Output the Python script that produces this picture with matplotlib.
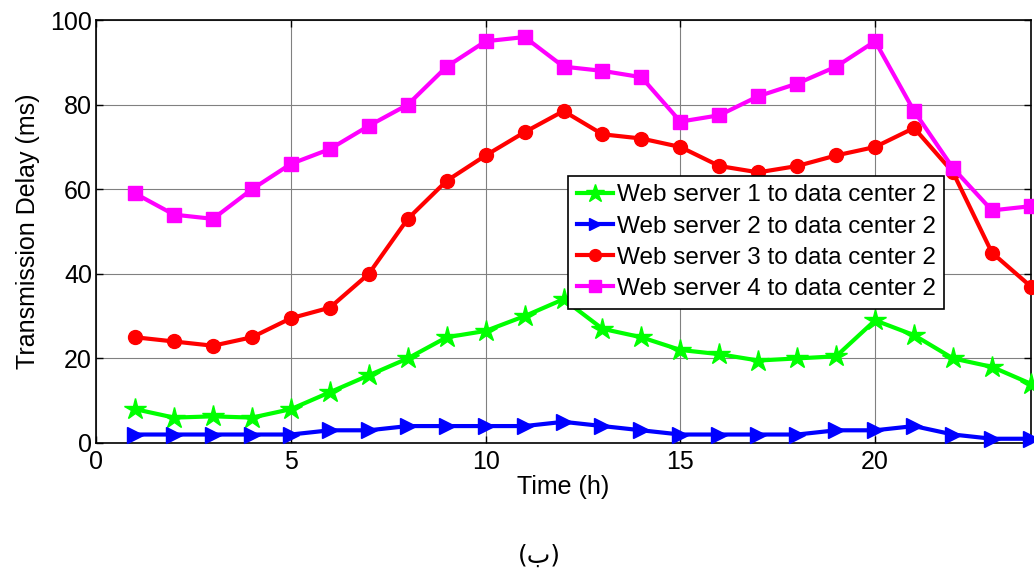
import matplotlib
matplotlib.use("Agg")
import matplotlib.pyplot as plt

plt.rcParams['font.family'] = ['Liberation Sans', 'DejaVu Sans']

hours = list(range(1, 25))
ws1 = [8, 6, 6.3, 6, 8, 12, 16, 20, 25, 26.5, 30, 34, 27, 25, 22, 21, 19.5, 20, 20.5, 29, 25.5, 20, 18, 14]
ws2 = [2, 2, 2, 2, 2, 3, 3, 4, 4, 4, 4, 5, 4, 3, 2, 2, 2, 2, 3, 3, 4, 2, 1, 1]
ws3 = [25, 24, 23, 25, 29.5, 32, 40, 53, 62, 68, 73.5, 78.5, 73, 72, 70, 65.5, 64, 65.5, 68, 70, 74.5, 64, 45, 37]
ws4 = [59, 54, 53, 60, 66, 69.5, 75, 80, 89, 95, 96, 89, 88, 86.5, 76, 77.5, 82, 85, 89, 95, 78.5, 65, 55, 56]

labels = ["Web server 1 to data center 2", "Web server 2 to data center 2",
          "Web server 3 to data center 2", "Web server 4 to data center 2"]
x_ticks = [0, 5, 10, 15, 20]
y_ticks = [0, 20, 40, 60, 80, 100]

fig = plt.figure(figsize=(10.34, 5.75), dpi=100)
ax = fig.add_axes([0.093, 0.2296, 0.904, 0.7354])

ax.plot(hours, ws1, color='#00ff00', lw=3, marker='*', ms=16, label=labels[0], clip_on=False, zorder=3)
ax.plot(hours, ws2, color='#0000ff', lw=3, marker='>', ms=11, label=labels[1], clip_on=False, zorder=3)
ax.plot(hours, ws3, color='#ff0000', lw=3, marker='o', ms=10, label=labels[2], clip_on=False, zorder=3)
ax.plot(hours, ws4, color='#ff00ff', lw=3, marker='s', ms=10, label=labels[3], clip_on=False, zorder=3)

ax.set_xlim(0, 24)
ax.set_ylim(0, 100)
ax.set_xticks(x_ticks)
ax.set_yticks(y_ticks)
ax.tick_params(direction='in', top=True, right=True, labelsize=18, length=5, width=1)
ax.tick_params(axis='x', pad=5)
ax.tick_params(axis='y', pad=3)
ax.grid(True, color='#808080', lw=0.8)
ax.set_axisbelow(True)
for s in ax.spines.values():
    s.set_linewidth(1.2)

ax.set_xlabel("Time (h)", fontsize=18, labelpad=1)
ax.set_ylabel("Transmission Delay (ms)", fontsize=18, labelpad=7)

leg = ax.legend(loc='upper left', bbox_to_anchor=(0.505, 0.632), fontsize=17.5,
                frameon=True, fancybox=False, edgecolor='black', framealpha=1,
                handlelength=1.5, handletextpad=0.15, borderpad=0.35, labelspacing=0.38,
                borderaxespad=0, markerscale=0.85)
leg.get_frame().set_linewidth(1.2)

fig.text(0.522, 0.012, "(ب)", fontsize=18, ha='center', va='bottom',
         family=['DejaVu Sans'])

fig.savefig("out.png", dpi=100)
